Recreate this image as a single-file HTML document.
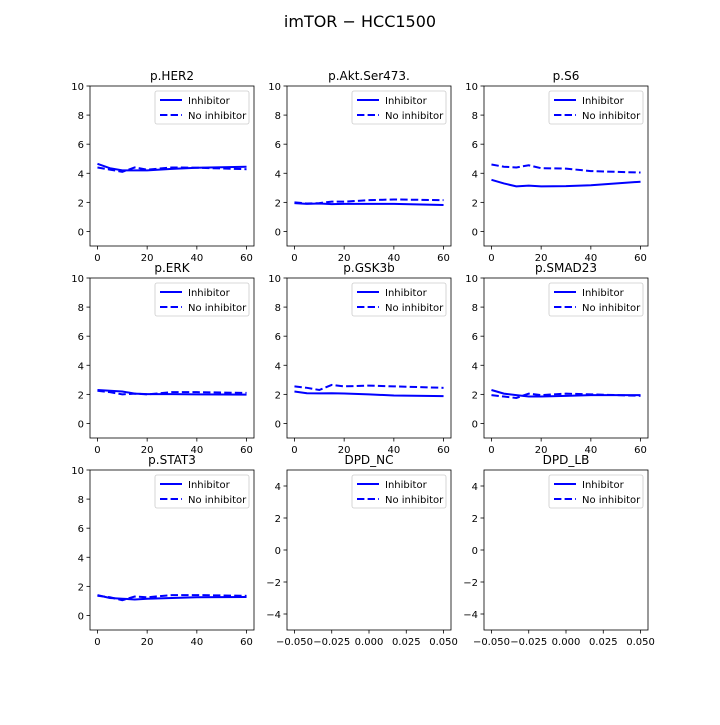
<!DOCTYPE html>
<html><head><meta charset="utf-8"><style>
body{margin:0;background:#fff;font-family:"Liberation Sans","DejaVu Sans",sans-serif}
svg text{font-family:"DejaVu Sans","Liberation Sans",sans-serif}
</style></head><body>
<svg id="c" width="720" height="720" xmlns="http://www.w3.org/2000/svg">
<rect width="720" height="720" fill="#fff"/>
<text x="360" y="27" font-size="16" text-anchor="middle">imTOR − HCC1500</text>
</svg>
<script>
const times=[0,5,10,15,20,30,40,60];
const panelTitles=["p.HER2","p.Akt.Ser473.","p.S6","p.ERK","p.GSK3b","p.SMAD23","p.STAT3","DPD_NC","DPD_LB"];
const inhib=[
[4.65,4.35,4.2,4.2,4.2,4.3,4.38,4.45],
[1.95,1.9,1.92,1.88,1.9,1.9,1.9,1.82],
[3.55,3.3,3.1,3.15,3.1,3.12,3.18,3.42],
[2.3,2.25,2.2,2.05,2.02,2.02,2.0,1.98],
[2.2,2.08,2.07,2.08,2.06,2.0,1.92,1.88],
[2.3,2.05,1.95,1.85,1.85,1.9,1.95,1.95],
[1.4,1.2,1.15,1.1,1.15,1.2,1.25,1.27],
null,null];
const noInhib=[
[4.4,4.25,4.1,4.4,4.25,4.4,4.38,4.28],
[2.0,1.92,1.95,2.05,2.05,2.15,2.2,2.15],
[4.6,4.45,4.4,4.55,4.35,4.32,4.15,4.05],
[2.25,2.15,2.0,2.05,2.0,2.15,2.15,2.1],
[2.55,2.45,2.3,2.65,2.55,2.6,2.55,2.45],
[1.95,1.85,1.75,2.05,1.95,2.05,2.0,1.9],
[1.35,1.25,1.05,1.3,1.25,1.4,1.4,1.35],
null,null];
const yTicks=[0,2,4,6,8,10];
const xTicks=[0,20,40,60];
const yTicksDPD=[-4,-2,0,2,4];
const xTicksDPD=["-0.050","-0.025","0.000","0.025","0.050"];
const NS="http://www.w3.org/2000/svg";
const svg=document.getElementById('c');
function mk(t,a,p){const e=document.createElementNS(NS,t);for(const k in a)e.setAttribute(k,a[k]);(p||svg).appendChild(e);return e;}
const colX=[90,287,484],rowY=[86,278,470],W=164,H=160;
panelTitles.forEach((title,i)=>{
 const x0=colX[i%3],y0=rowY[Math.floor(i/3)];
 const g=mk('g',{});
 
 
 const dpd=inhib[i]===null;
 let sx,sy,xt,yt;
 if(!dpd){
  sx=v=>x0+(v+3)/66*W; sy=v=>y0+H-(v+1)/11*H;
  xt=xTicks.map(v=>[v,String(v)]); yt=yTicks;
 }else{
  sx=v=>x0+(v+0.055)/0.11*W; sy=v=>y0+H-(v+5)/10*H;
  xt=xTicksDPD.map(s=>[parseFloat(s),s]); yt=yTicksDPD;
 }
 const fmt=v=>v<0?'−'+Math.abs(v):String(v);
 yt.forEach(v=>{const y=sy(v);mk('line',{x1:x0-3.5,x2:x0,y1:y,y2:y,stroke:'#000','stroke-width':0.8},g);
  const t=mk('text',{x:x0-6,y:y+4,'font-size':10,'text-anchor':'end'},g);t.textContent=fmt(v);
  
  });
 xt.forEach(([v,s])=>{const x=sx(v);mk('line',{x1:x,x2:x,y1:y0+H,y2:y0+H+3.5,stroke:'#000','stroke-width':0.8},g);
  const t=mk('text',{x:x,y:y0+H+15,'font-size':10,'text-anchor':'middle'},g);t.textContent=s.replace('-','−');
  
  });
 if(!dpd){
  [[inhib[i],null,'inhibitor-line'],[noInhib[i],'7.4,3.2','no-inhibitor-line']].forEach(([d,da,nm])=>{
   const p=mk('polyline',{points:d.map((v,k)=>sx(times[k])+','+sy(v)).join(' '),fill:'none',stroke:'#0000ff','stroke-width':2},g);
   if(da)p.setAttribute('stroke-dasharray',da);
   
   
  });
 }
 mk('rect',{x:x0,y:y0,width:W,height:H,fill:'none',stroke:'#000','stroke-width':0.8},g);
 const tt=mk('text',{x:x0+W/2,y:y0-6,'font-size':12,'text-anchor':'middle'},g);tt.textContent=title;
 
 
 const lg=mk('g',{},g);
 
 
 const lx=x0+W-99,ly=y0+5;
 mk('rect',{x:lx,y:ly,width:94,height:33,rx:2,fill:'#fff',stroke:'#ccc','stroke-width':0.8},lg);
 mk('line',{x1:lx+5,x2:lx+27,y1:ly+9,y2:ly+9,stroke:'#0000ff','stroke-width':2},lg);
 mk('line',{x1:lx+5,x2:lx+27,y1:ly+24,y2:ly+24,stroke:'#0000ff','stroke-width':2,'stroke-dasharray':'7.4,3.2'},lg);
 const a=mk('text',{x:lx+33,y:ly+13,'font-size':10},lg);a.textContent='Inhibitor';
 
 
 const b=mk('text',{x:lx+33,y:ly+28,'font-size':10},lg);b.textContent='No inhibitor';
 
 
});
</script>
</body></html>
